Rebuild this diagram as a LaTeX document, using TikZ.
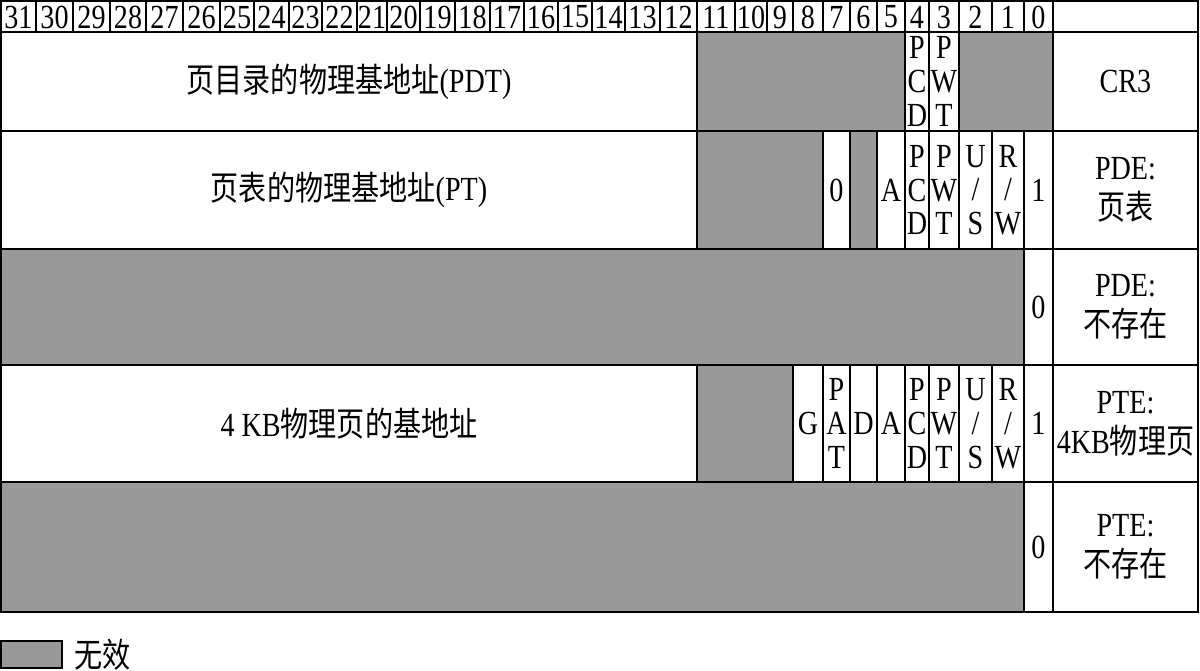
\documentclass[tikz,border=0pt]{standalone}
\usepackage{fontspec}
\setmainfont{Liberation Serif}
\newfontfamily\cjk{Noto Sans CJK SC}
\definecolor{invalid}{RGB}{153,153,153}

\begin{document}
\begin{tikzpicture}[x=0.02cm, y=-0.02cm,
    hdr/.style={draw, line width=0.6pt}, % header cells
    cell/.style={draw, line width=1pt}, % entry cells
    bits/.style={font=\fontsize{16}{16}\selectfont, align=center, inner sep=0pt, yscale=1.2}
]
    \useasboundingbox (0,0) rectangle (1200,670);

    % Header: bit numbers 31..0
    \foreach \xa/\xb/\bit in {1/36/31, 36/73/30, 73/110/29, 110/146/28, 146/183/27,
        183/220/26, 220/254/25, 254/289/24, 289/322/23, 322/357/22, 357/387/21,
        387/420/20, 420/455/19, 455/490/18, 490/524/17, 524/558/16, 558/592/15,
        592/625/14, 625/660/13, 660/697/12, 697/735/11, 735/767/10, 767/793/9,
        793/823/8, 823/850/7, 850/877/6, 877/905/5, 905/929/4, 929/959/3,
        959/992/2, 992/1024/1, 1024/1053/0} {
        \draw[hdr] (\xa,1) rectangle (\xb,32);
        \node[bits] (bit\bit) at ({(\xa+\xb)/2},17) {\bit};
    }
    \draw[hdr] (1053,1) rectangle (1198,32);

    % CR3
    \foreach \xa/\xb/\clr/\txt [count=\i] in {
        1/697/white/{{\cjk 页目录的物理基地址}(PDT)}, 697/905/invalid/{},
        905/929/white/{P\\C\\D}, 929/959/white/{P\\W\\T}, 959/1053/invalid/{},
        1053/1198/white/{CR3}} {
        \draw[cell, fill=\clr] (\xa,32) rectangle (\xb,131);
        \node[bits] (cr-\i) at ({(\xa+\xb)/2},81.5) {\txt};
    }

    % PDE: page table
    \foreach \xa/\xb/\clr/\txt [count=\i] in {
        1/697/white/{{\cjk 页表的物理基地址}(PT)}, 697/823/invalid/{},
        823/850/white/{0}, 850/877/invalid/{}, 877/905/white/{A},
        905/929/white/{P\\C\\D}, 929/959/white/{P\\W\\T}, 959/992/white/{U\\/\\S},
        992/1024/white/{R\\/\\W}, 1024/1053/white/{1},
        1053/1198/white/{PDE:\\[3pt]{\cjk 页表}}} {
        \draw[cell, fill=\clr] (\xa,131) rectangle (\xb,249);
        \node[bits] (pde-\i) at ({(\xa+\xb)/2},190) {\txt};
    }

    % PDE: not present
    \foreach \xa/\xb/\clr/\txt [count=\i] in {
        1/1024/invalid/{}, 1024/1053/white/{0},
        1053/1198/white/{PDE:\\[3pt]{\cjk 不存在}}} {
        \draw[cell, fill=\clr] (\xa,249) rectangle (\xb,365);
        \node[bits] (pdn-\i) at ({(\xa+\xb)/2},307) {\txt};
    }

    % PTE: 4KB page
    \foreach \xa/\xb/\clr/\txt [count=\i] in {
        1/697/white/{4 KB{\cjk 物理页的基地址}}, 697/793/invalid/{},
        793/823/white/{G}, 823/850/white/{P\\A\\T}, 850/877/white/{D},
        877/905/white/{A}, 905/929/white/{P\\C\\D}, 929/959/white/{P\\W\\T},
        959/992/white/{U\\/\\S}, 992/1024/white/{R\\/\\W}, 1024/1053/white/{1},
        1053/1198/white/{PTE:\\[3pt]4KB{\cjk 物理页}}} {
        \draw[cell, fill=\clr] (\xa,365) rectangle (\xb,482);
        \node[bits] (pte-\i) at ({(\xa+\xb)/2},423.5) {\txt};
    }

    % PTE: not present
    \foreach \xa/\xb/\clr/\txt [count=\i] in {
        1/1024/invalid/{}, 1024/1053/white/{0},
        1053/1198/white/{PTE:\\[3pt]{\cjk 不存在}}} {
        \draw[cell, fill=\clr] (\xa,482) rectangle (\xb,612);
        \node[bits] (ptn-\i) at ({(\xa+\xb)/2},547) {\txt};
    }

    % Legend
    \draw[cell, fill=invalid] (1,641) rectangle (62,668);
    \node[bits, anchor=west] (legend) at (74,655) {\cjk 无效};

\end{tikzpicture}
\end{document}
